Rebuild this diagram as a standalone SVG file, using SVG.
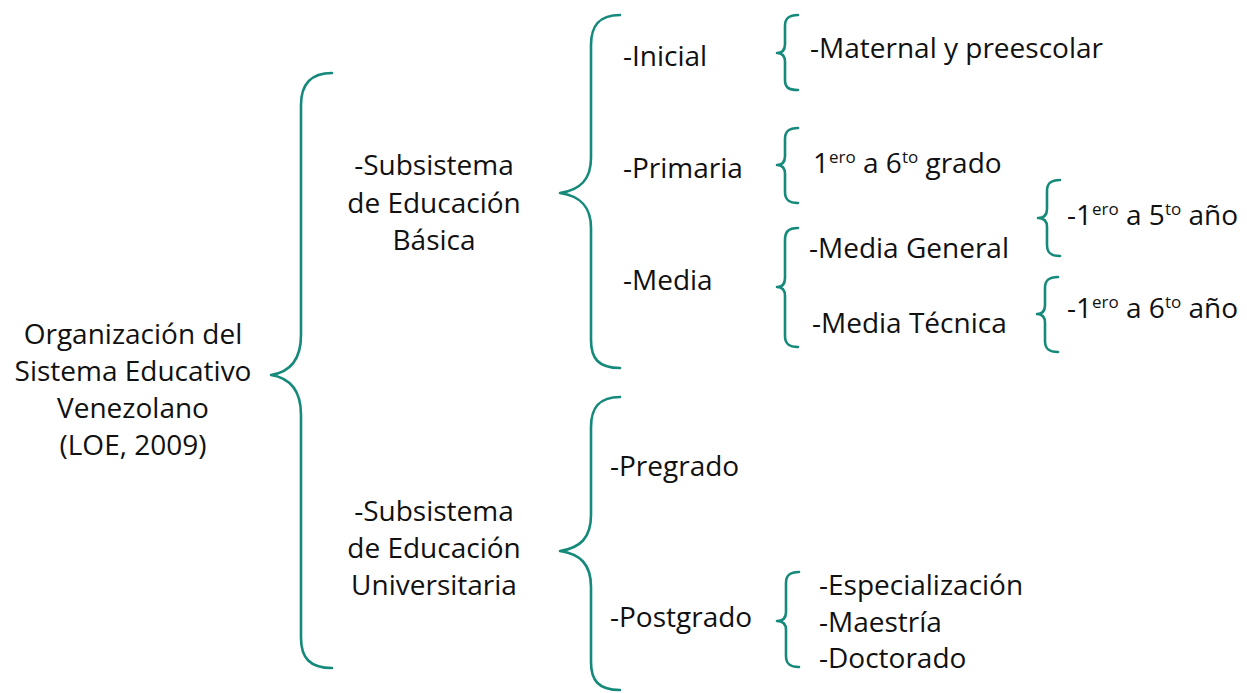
<svg xmlns="http://www.w3.org/2000/svg" width="1247" height="693" viewBox="0 0 1247 693">
<style>
.t{font-family:"Open Sans","Noto Sans",sans-serif;font-size:28px;fill:#111}
.c{text-anchor:middle}
.b{fill:none;stroke:#15897a;stroke-width:2.6;stroke-linecap:round;stroke-linejoin:round}
.s{font-size:17px}
</style>
<rect width="1247" height="693" fill="#fff"/>
<g id="connectors">
<path class="b" d="M332 73 C310 73 301 85 301 105 L301 335 C301 360 290 372 271 375 C290 378 301 390 301 415 L301 638 C301 658 310 668 332 668"/>
<path class="b" d="M620 15 C598 15 591 27 591 45 L591 158 C591 180 580 190 560 193 C580 196 591 206 591 228 L591 340 C591 358 598 368 620 368"/>
<path class="b" d="M620 397 C598 397 591 409 591 427 L591 515 C591 538 580 548 560 551 C580 554 591 564 591 587 L591 662 C591 680 598 690 620 690"/>
<path class="b" d="M798 15 C788 15 785 19 785 26 L785 44 C785 50 782 53 777 53 C782 53 785 56 785 62 L785 80 C785 87 788 90 798 90"/>
<path class="b" d="M798 128 C788 128 785 132 785 139 L785 156 C785 162 782 165 777 165 C782 165 785 168 785 174 L785 192 C785 199 788 203 798 203"/>
<path class="b" d="M798 228 C788 228 785 232 785 240 L785 278 C785 284 782 287 777 287 C782 287 785 290 785 296 L785 336 C785 343 788 347 798 347"/>
<path class="b" d="M1060 180 C1050 180 1047 184 1047 191 L1047 209 C1047 215 1044 218 1038 218 C1044 218 1047 221 1047 227 L1047 245 C1047 252 1050 256 1060 256"/>
<path class="b" d="M1058 277 C1048 277 1045 281 1045 288 L1045 305 C1045 311 1042 314 1037 314 C1042 314 1045 317 1045 323 L1045 341 C1045 348 1048 352 1058 352"/>
<path class="b" d="M799 572 C789 572 786 576 786 583 L786 612 C786 618 783 621 777 621 C783 621 786 624 786 630 L786 656 C786 663 789 667 799 667"/>
</g>
<g id="root"><text class="t c" x="133"><tspan x="133" y="344">Organización del</tspan><tspan x="133" y="381">Sistema Educativo</tspan><tspan x="133" y="418">Venezolano</tspan><tspan x="133" y="455">(LOE, 2009)</tspan></text></g>
<g id="basica"><text class="t c"><tspan x="434" y="175">-Subsistema</tspan><tspan x="434" y="213">de Educación</tspan><tspan x="434" y="250">Básica</tspan></text></g>
<g id="universitaria"><text class="t c"><tspan x="434" y="521">-Subsistema</tspan><tspan x="434" y="558">de Educación</tspan><tspan x="434" y="595">Universitaria</tspan></text></g>
<g id="inicial"><text class="t" x="623" y="66">-Inicial</text></g>
<g id="primaria"><text class="t" x="623" y="178">-Primaria</text></g>
<g id="media"><text class="t" x="623" y="290">-Media</text></g>
<g id="pregrado"><text class="t" x="610" y="476">-Pregrado</text></g>
<g id="postgrado"><text class="t" x="610" y="627">-Postgrado</text></g>
<g id="maternal"><text class="t" x="810" y="58">-Maternal y preescolar</text></g>
<g id="grado"><text class="t" x="813" y="173">1<tspan class="s" dy="-10">ero</tspan><tspan dy="10"> a 6</tspan><tspan class="s" dy="-10">to</tspan><tspan dy="10"> grado</tspan></text></g>
<g id="mediageneral"><text class="t" x="809" y="258">-Media General</text></g>
<g id="mediatecnica"><text class="t" x="812" y="333">-Media Técnica</text></g>
<g id="anio5"><text class="t" x="1067" y="225">-1<tspan class="s" dy="-10">ero</tspan><tspan dy="10"> a 5</tspan><tspan class="s" dy="-10">to</tspan><tspan dy="10"> año</tspan></text></g>
<g id="anio6"><text class="t" x="1067" y="318">-1<tspan class="s" dy="-10">ero</tspan><tspan dy="10"> a 6</tspan><tspan class="s" dy="-10">to</tspan><tspan dy="10"> año</tspan></text></g>
<g id="postgrados"><text class="t"><tspan x="819" y="595">-Especialización</tspan><tspan x="819" y="632">-Maestría</tspan><tspan x="819" y="668">-Doctorado</tspan></text></g>
</svg>
